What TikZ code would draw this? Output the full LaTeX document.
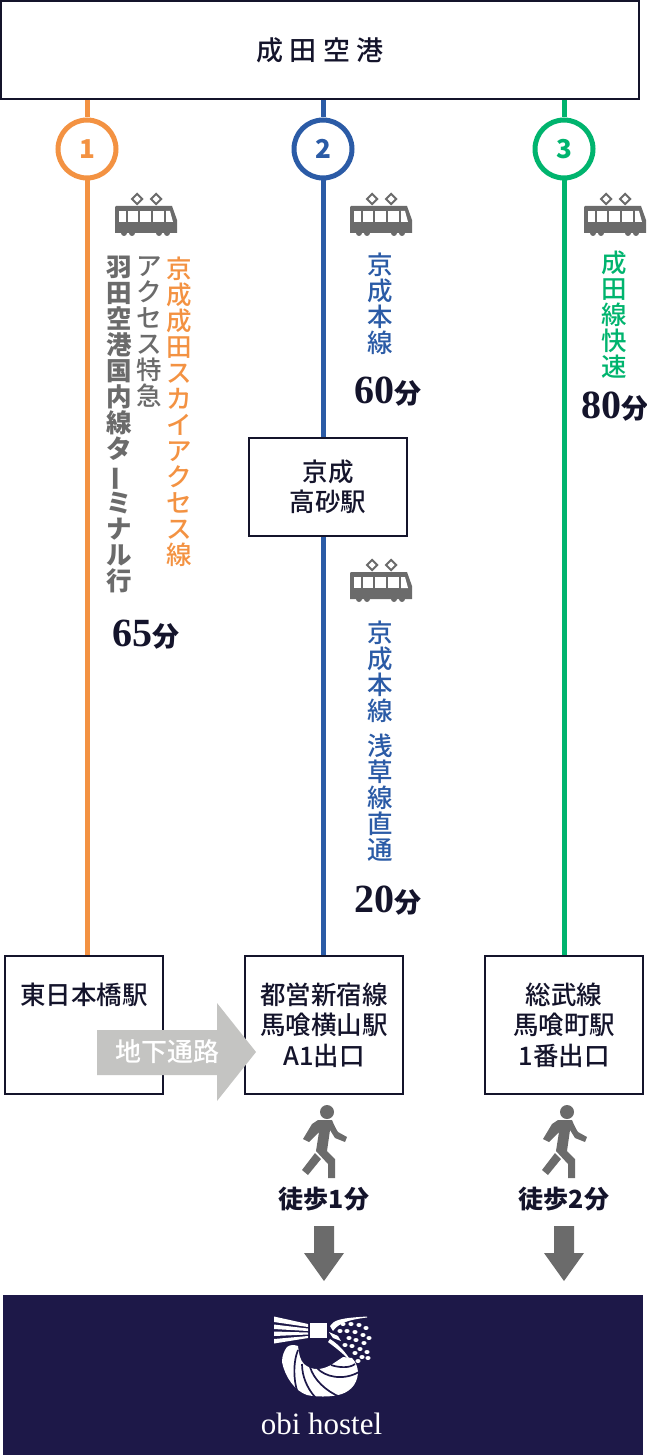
\documentclass[tikz,border=0pt]{standalone}
\usepackage{fontspec}
\setmainfont{Noto Sans CJK JP}
\newfontfamily\latinserif{Liberation Serif}
\newfontfamily\medfont{Noto Sans CJK JP Medium}
\usepackage{graphicx}
\definecolor{orangeline}{HTML}{F39242}
\definecolor{blueline}{HTML}{2B5BA6}
\definecolor{greenline}{HTML}{00B46E}
\definecolor{inkdark}{HTML}{14142B}
\definecolor{icongrey}{HTML}{6B6B6B}
\definecolor{navyband}{HTML}{1D1848}
\definecolor{passgrey}{HTML}{C4C4C2}
\newcommand{\mins}[1]{{\latinserif\bfseries\fontsize{40}{40}\selectfont #1}{\bfseries\fontsize{27}{27}\selectfont 分}}
\newcommand{\vbar}{\rotatebox[origin=c]{90}{ー}}
\tikzset{
  x=1pt,y=-1pt,
  stationbox/.style={draw=inkdark,line width=2pt,fill=white,align=center,text=inkdark,font=\medfont\fontsize{25.5}{30.5}\selectfont,inner sep=0pt},
  routeline/.style={line width=5pt},
  badge/.style={circle,draw=#1,line width=5pt,fill=white,minimum size=58pt,inner sep=0pt,text=#1,font=\bfseries\fontsize{26}{26}\selectfont},
  vtext/.style={anchor=north,align=center,inner sep=0pt,font=\medfont\fontsize{25.5}{26}\selectfont},
  duration/.style={inner sep=0pt,text=inkdark},
  walklabel/.style={inner sep=0pt,text=inkdark,font=\bfseries\fontsize{25}{25}\selectfont},
}
\newcommand{\traindraw}[2]{%
  \begin{scope}[shift={(#1,#2)}]
    \fill[icongrey] (15.5,-15) -- (22,-21.5) -- (28.5,-15) -- (22,-8.5) -- cycle;
    \fill[white] (18.5,-15) -- (22,-18.5) -- (25.5,-15) -- (22,-11.5) -- cycle;
    \fill[icongrey] (34.5,-15) -- (41,-21.5) -- (47.5,-15) -- (41,-8.5) -- cycle;
    \fill[white] (37.5,-15) -- (41,-18.5) -- (44.5,-15) -- (41,-11.5) -- cycle;
    \fill[icongrey] (1,-8) -- (57,-8) -- (62,6) -- (62,19) -- (0,19) -- (0,-7) -- cycle;
    \fill[white] (4,-3) rectangle (11,8);
    \fill[white] (13,-3) rectangle (23,8);
    \fill[white] (25,-3) rectangle (36,8);
    \fill[white] (38,-3) rectangle (49,8);
    \fill[white] (51,-3) -- (55,-3) -- (58,8) -- (51,8) -- cycle;
    \fill[icongrey] (9,19) circle (3) (17,19) circle (3) (44,19) circle (3) (52,19) circle (3);
  \end{scope}}
\newcommand{\walkerdraw}[1]{%
  \begin{scope}[shift={(#1,0)}]
    \fill[icongrey] (327,1112) circle (7);
    \fill[icongrey] (318,1120) -- (332,1120) .. controls (334,1125) and (336,1129) .. (338,1132) -- (347,1137) -- (345,1142) -- (335,1138) -- (330,1130) -- (327,1151) -- (335,1159) -- (335,1178) -- (328,1178) -- (328,1164) -- (316,1151) -- (319,1132) -- (309,1142) -- (303,1139) -- (312,1124) -- cycle;
    \fill[icongrey] (315,1153) -- (321,1159) -- (308,1175) -- (302,1170) -- cycle;
  \end{scope}}
\newcommand{\downarrowdraw}[1]{%
  \fill[icongrey] (#1-10,1226) -- (#1+10,1226) -- (#1+10,1253) -- (#1+20,1253) -- (#1,1281) -- (#1-20,1253) -- (#1-10,1253) -- cycle;}
\begin{document}
\begin{tikzpicture}
\useasboundingbox (0,0) rectangle (647,1455);
\node[badge=orangeline] (c1) at (87,149) {1};
\node[badge=blueline] (c2) at (323,149) {2};
\node[badge=greenline] (c3) at (564,149) {3};
\node[stationbox,minimum width=638pt,minimum height=98pt,font=\medfont\fontsize{27}{30}\selectfont] (top) at (320,50) {成 田 空 港};
\node[stationbox,minimum width=158pt,minimum height=138pt] (b1) at (84,1025) {};
\node[stationbox,minimum width=158pt,minimum height=138pt] (b2) at (324,1025) {都営新宿線\\馬喰横山駅\\A1出口};
\node[stationbox,minimum width=158pt,minimum height=138pt] (b3) at (564,1025) {総武線\\馬喰町駅\\1番出口};
\node[stationbox,draw=none,fill=none] (b1t) at (84,995) {東日本橋駅};
\node[stationbox,minimum width=158pt,minimum height=98pt] (mid) at (328,487) {京成\\高砂駅};
% connectors
\draw[routeline,orangeline] (c1 |- top.south) -- (c1.north);
\draw[routeline,orangeline] (c1.south) -- (c1 |- b1.north);
\draw[routeline,blueline] (c2 |- top.south) -- (c2.north);
\draw[routeline,blueline] (c2.south) -- (c2 |- mid.north);
\draw[routeline,blueline] (c2 |- mid.south) -- (c2 |- b2.north);
\draw[routeline,greenline] (c3 |- top.south) -- (c3.north);
\draw[routeline,greenline] (c3.south) -- (c3 |- b3.north);
% underground passage arrow
\fill[passgrey] (97,1030) -- (217,1030) -- (217,1003) -- (256,1052) -- (217,1101) -- (217,1075) -- (97,1075) -- cycle;
\node[inner sep=0pt,text=white,font=\medfont\fontsize{26}{26}\selectfont] (pass) at (167,1052) {地下通路};
% train icons
\traindraw{115}{214}
\traindraw{350}{214}
\traindraw{584}{214}
\traindraw{350}{580}
% vertical labels
\node[vtext,text=orangeline] (v1) at (179,257) {京\\成\\成\\田\\ス\\カ\\イ\\ア\\ク\\セ\\ス\\線};
\node[vtext,text=icongrey] (v2) at (149,257) {ア\\ク\\セ\\ス\\特\\急};
\node[vtext,text=icongrey,font=\bfseries\fontsize{25.5}{26}\selectfont] (v3) at (119,256) {羽\\田\\空\\港\\国\\内\\線\\タ\\\vbar\\ミ\\ナ\\ル\\行};
\node[duration] (d1) at (145.5,635) {\mins{65}};
\node[vtext,text=blueline] (v4) at (380.5,253) {京\\成\\本\\線};
\node[duration] (d2) at (388,392) {\mins{60}};
\node[vtext,text=blueline] (v5) at (380.5,621) {京\\成\\本\\線};
\node[vtext,text=blueline] (v6) at (380.5,734) {浅\\草\\線\\直\\通};
\node[duration] (d3) at (388,901) {\mins{20}};
\node[vtext,text=greenline] (v7) at (614.5,251) {成\\田\\線\\快\\速};
\node[duration] (d4) at (614.5,407) {\mins{80}};
% walking
\walkerdraw{0}
\walkerdraw{240}
\node[walklabel] (w1) at (324,1199) {徒歩1分};
\node[walklabel] (w2) at (564,1199) {徒歩2分};
\downarrowdraw{324}
\downarrowdraw{564}
% hotel band
\fill[navyband] (3,1295) rectangle (643,1455);
% logo
\fill[white] (310,1323) rectangle (327,1338);
\fill[white] (274,1316.5) -- (274,1322) -- (308,1327) -- (308,1324) -- cycle;
\fill[white] (274,1324.5) -- (274,1329) -- (308,1331) -- (308,1328.5) -- cycle;
\fill[white] (274,1331.5) -- (274,1336) -- (308,1334.5) -- (308,1332.5) -- cycle;
\fill[white] (274,1339) -- (274,1343.5) -- (308,1338) -- (308,1336) -- cycle;
\fill[white] (287,1347) .. controls (291,1344) and (295,1345) .. (298,1346)
  .. controls (299,1354) and (300,1360) .. (304,1364)
  .. controls (312,1371) and (322,1370) .. (331,1365)
  -- (343,1357) -- (352,1358)
  .. controls (356,1362) and (358,1368) .. (358,1373)
  .. controls (357,1386) and (348,1393) .. (338,1395)
  .. controls (330,1397) and (316,1397) .. (307,1395)
  .. controls (295,1391) and (285,1377) .. (282,1362)
  .. controls (282,1356) and (284,1351) .. (287,1347) -- cycle;
\begin{scope}[navyband,line width=1.7pt]
  \draw (298,1350) .. controls (293,1362) and (293,1382) .. (299,1396);
  \draw (302,1364) .. controls (302,1376) and (307,1388) .. (315,1397);
  \draw (310,1367) .. controls (314,1380) and (326,1391) .. (340,1397);
  \draw (317,1368) .. controls (325,1377) and (343,1381) .. (359,1372);
  \draw (331,1365) .. controls (340,1368) and (350,1368) .. (355,1364);
\end{scope}
\foreach \px/\py in {343/1324,351/1324,359/1325,366/1328,340/1331,347/1331,355/1332,363/1335,369/1338,349/1338,356/1340,364/1343,345/1345,352/1346,360/1349,367/1352,355/1353,362/1357,368/1358,358/1361}
  \fill[white] (\px,\py) ellipse (2.6 and 2);
\fill[white] (330,1326) .. controls (334,1320) and (340,1318) .. (367,1316.5) -- (367,1317.5) .. controls (346,1320) and (338,1324) .. (333,1331) -- cycle;
\fill[white] (329,1332) -- (338,1336) -- (341,1341) -- (333,1338) -- cycle;
\fill[white] (330,1339) .. controls (338,1344) and (346,1352) .. (352,1363) .. controls (344,1354) and (336,1348) .. (328,1342) -- cycle;
\node[inner sep=0pt,text=white,font=\latinserif\fontsize{31}{31}\selectfont] (brand) at (321.5,1424) {obi hostel};
\end{tikzpicture}
\end{document}
